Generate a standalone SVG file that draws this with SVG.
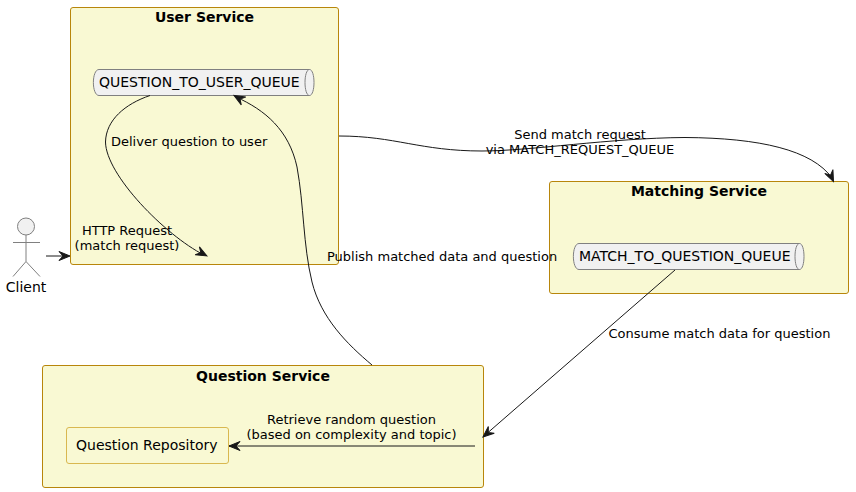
<svg xmlns="http://www.w3.org/2000/svg" width="856" height="492" viewBox="0 0 856 492">
<style>
text{font-family:"DejaVu Sans",sans-serif;font-size:13px;fill:#000}
.t{font-weight:bold;font-size:14px;text-anchor:middle}
.m{text-anchor:middle}
.q{font-size:14px}
.box{fill:#F9F9D3;stroke:#B8860B;stroke-width:1}
.queue{fill:#F1F1F1;stroke:#808080;stroke-width:1}
.c{fill:none;stroke:#181818;stroke-width:1}
.h{fill:#181818;stroke:#181818;stroke-width:1}
.actor{fill:none;stroke:#808080;stroke-width:1}
</style>
<defs>
<path id="ah" class="h" d="M0,0 L-11,-4.500 L-7,0 L-11,4.500 Z"/>
</defs>
<g id="user-service">
<rect class="box" x="70.500" y="7.500" width="268" height="257" rx="2.500"/>
<text class="t" x="204.500" y="22">User Service</text>
</g>
<g id="question-to-user-queue">
<path class="queue" d="M99,69.500 H309.500 C315.500,69.500 315.500,95.500 309.500,95.500 H99 C91.500,95.500 91.500,69.500 99,69.500 Z"/>
<path class="queue" d="M309.500,69.500 C303.500,69.500 303.500,95.500 309.500,95.500" style="fill:none"/>
<text class="q" x="99" y="87">QUESTION_TO_USER_QUEUE</text>
</g>
<g id="matching-service">
<rect class="box" x="549.500" y="181.500" width="299" height="112" rx="2.500"/>
<text class="t" x="699" y="196">Matching Service</text>
</g>
<g id="match-to-question-queue">
<path class="queue" d="M579,243.500 H799.500 C805.500,243.500 805.500,269.500 799.500,269.500 H579 C571.500,269.500 571.500,243.500 579,243.500 Z"/>
<path class="queue" d="M799.500,243.500 C793.500,243.500 793.500,269.500 799.500,269.500" style="fill:none"/>
<text class="q" x="579" y="261">MATCH_TO_QUESTION_QUEUE</text>
</g>
<g id="question-service">
<rect class="box" x="42.500" y="365.500" width="441" height="122" rx="2.500"/>
<text class="t" x="263" y="381">Question Service</text>
</g>
<g id="question-repository">
<rect x="66.500" y="427.500" width="162" height="36" rx="2.500" fill="#F9F9D3" stroke="#D9B84F"/>
<text class="q" x="76" y="450">Question Repository</text>
</g>
<g id="client">
<circle class="actor" cx="26" cy="226.500" r="8.500" style="fill:#F1F1F1"/>
<path class="actor" d="M26,235 V261.500 M13,242.500 H40 M26,261.500 L13,276.500 M26,261.500 L40,276.500"/>
<text class="q m" x="26" y="292">Client</text>
</g>
<g id="connectors">
<path class="c" d="M46,256 H62"/>
<use href="#ah" x="70" y="256"/>
<path class="c" d="M150,95.500 C125,104 106,120 105.500,142 C106,175 165,235 204,255"/>
<use href="#ah" transform="translate(207,256) rotate(28)"/>
<path class="c" d="M372,365 C347,344 321,318 312,282 C303,245 304,205 297,167 C289,130 265,110 236,97"/>
<use href="#ah" transform="translate(234,95.500) rotate(-150)"/>
<path class="c" d="M339,136 C395,136 420,151 482,151 C530,151 610,138 685,137.500 C760,138 812,150 832,178"/>
<use href="#ah" transform="translate(833.500,181.500) rotate(65)"/>
<path class="c" d="M675,270 L484,436"/>
<use href="#ah" transform="translate(483,437) rotate(139)"/>
<path class="c" d="M475,446 H229"/>
<use href="#ah" transform="translate(229,446) rotate(180)"/>
</g>
<g id="labels">
<text x="111" y="146">Deliver question to user</text>
<text class="m" x="127" y="235">HTTP Request</text>
<text class="m" x="127" y="250">(match request)</text>
<text class="m" x="580" y="139">Send match request</text>
<text class="m" x="580" y="153.500">via MATCH_REQUEST_QUEUE</text>
<text x="327" y="261">Publish matched data and question</text>
<text x="608.500" y="338">Consume match data for question</text>
<text class="m" x="351.500" y="424">Retrieve random question</text>
<text class="m" x="351.500" y="439">(based on complexity and topic)</text>
</g>
</svg>
